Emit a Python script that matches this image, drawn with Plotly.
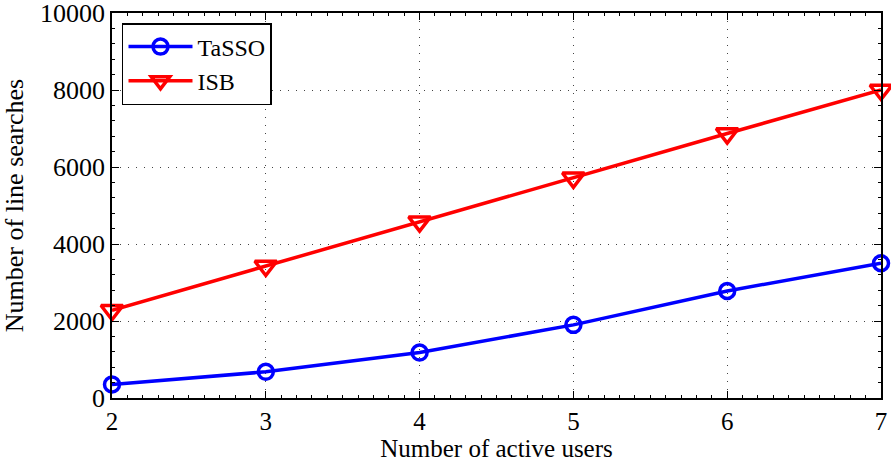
import plotly.graph_objects as go

# Number of active users
users = [2, 3, 4, 5, 6, 7]
# Line searches per method
tasso = [350, 680, 1180, 1900, 2780, 3500]
isb = [2280, 3430, 4580, 5720, 6870, 8000]

x_ticks = [2, 3, 4, 5, 6, 7]
y_ticks = [0, 2000, 4000, 6000, 8000, 10000]

font_family = "Liberation Serif, Times New Roman, serif"
fsize = 26

fig = go.Figure()
fig.add_trace(go.Scatter(
    x=users, y=tasso, name="TaSSO", mode="lines+markers",
    line=dict(color="#0000ff", width=3.5),
    marker=dict(symbol="circle-open", size=15, color="#0000ff",
                line=dict(width=3.5, color="#0000ff")),
    cliponaxis=False,
))
fig.add_trace(go.Scatter(
    x=users, y=isb, name="ISB", mode="lines+markers",
    line=dict(color="#ff0000", width=3.5),
    marker=dict(symbol="triangle-down-open", size=19, color="#ff0000",
                line=dict(width=3.5, color="#ff0000")),
    cliponaxis=False,
))

axis_common = dict(
    showline=True, linecolor="black", linewidth=1.5, mirror="ticks",
    ticks="inside", ticklen=7, tickcolor="black",
    showgrid=True, gridcolor="#444444", griddash="1px,7px", gridwidth=1,
    zeroline=False, ticklabeloverflow="allow", automargin=False,
)

fig.update_xaxes(
    range=[2, 7], tickvals=x_ticks, ticktext=[str(v) for v in x_ticks],
    tickfont=dict(family=font_family, size=25, color="black"),
    title=dict(text="Number of active users", standoff=3,
               font=dict(family=font_family, size=25, color="black")),
    minor=dict(ticks="inside", ticklen=3, tickcolor="black", dtick=0.1, showgrid=False),
    **axis_common,
)
fig.update_yaxes(
    range=[0, 10000], tickvals=y_ticks, ticktext=[str(v) for v in y_ticks],
    tickfont=dict(family=font_family, size=fsize, color="black"),
    title=dict(text="Number of line searches", standoff=12,
               font=dict(family=font_family, size=fsize, color="black")),
    minor=dict(ticks="inside", ticklen=3, tickcolor="black", dtick=400, showgrid=False),
    **axis_common,
)

fig.update_layout(
    width=891, height=462,
    margin=dict(l=112, r=10, t=13, b=64),
    paper_bgcolor="white", plot_bgcolor="white",
    font=dict(family=font_family, color="black"),
    showlegend=True,
    legend=dict(
        x=0.013, y=0.974, xanchor="left", yanchor="top",
        bgcolor="white", bordercolor="black", borderwidth=1.5,
        font=dict(family=font_family, size=24, color="black"),
        tracegroupgap=0, itemwidth=64,
    ),
)

fig.write_html("out.html")
